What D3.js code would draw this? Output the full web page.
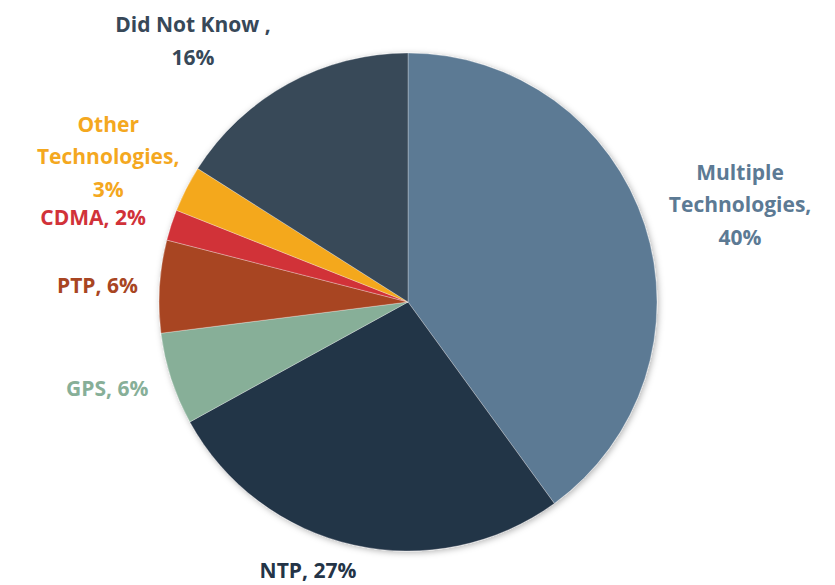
<!DOCTYPE html>
<html>
<head>
<meta charset="utf-8">
<script src="https://cdn.jsdelivr.net/npm/d3@7"></script>
<style>
  html, body { margin: 0; padding: 0; background: #fff; }
  svg text { font-family: "Open Sans", Lato, sans-serif; font-weight: 700; }
</style>
</head>
<body>
<div id="chart"></div>
<script>
'use strict';

// ─── Data ────────────────────────────────────────────────────────────────────
const categories = ['Multiple Technologies', 'NTP', 'GPS', 'PTP', 'CDMA', 'Other Technologies', 'Did Not Know'];
const shares     = [40, 27, 6, 6, 2, 3, 16];
const colors     = ['#5C7A94', '#243447', '#87AF98', '#A84522', '#D13239', '#F4A81F', '#374858'];
const labelLines = [
  ['Multiple', 'Technologies,', '40%'],
  ['NTP, 27%'],
  ['GPS, 6%'],
  ['PTP, 6%'],
  ['CDMA, 2%'],
  ['Other', 'Technologies,', '3%'],
  ['Did Not Know ,', '16%'],
];

// ─── Layout ──────────────────────────────────────────────────────────────────
const W = 835, H = 585;
const cx = 408, cy = 302, radius = 249;
// label placement: nudge (deg) from slice mid-angle, and distance from centre
const labelNudge = [1.7, 7.8, 1.9, -0.6, -3, -1.2, -10.7];
const labelDist  = [346, 287, 313, 311, 326, 333, 338];
const lineH = 32.5;

const svg = d3.select('#chart').append('svg')
  .attr('width', W)
  .attr('height', H);

const defs = svg.append('defs');
const f = defs.append('filter').attr('id', 'shadow')
  .attr('x', '-10%').attr('y', '-10%').attr('width', '120%').attr('height', '120%');
f.append('feDropShadow')
  .attr('dx', 1.5).attr('dy', 1.5).attr('stdDeviation', 3)
  .attr('flood-color', '#000').attr('flood-opacity', 0.3);

const rows = categories.map((c, i) => ({ cat: c, v: shares[i], color: colors[i], lines: labelLines[i], i }));

const pie = d3.pie().sort(null).value(d => d.v);
const arcs = pie(rows);
const arc = d3.arc().innerRadius(0).outerRadius(radius);

const g = svg.append('g').attr('transform', `translate(${cx},${cy})`);

g.append('g').attr('filter', 'url(#shadow)')
  .selectAll('path')
  .data(arcs)
  .join('path')
  .attr('d', arc)
  .attr('fill', d => d.data.color)
  .attr('stroke', '#fff')
  .attr('stroke-width', 0.5)
  .attr('stroke-opacity', 0.6);

// ─── Labels ──────────────────────────────────────────────────────────────────
arcs.forEach(a => {
  const i = a.data.i;
  const ang = (a.startAngle + a.endAngle) / 2 + labelNudge[i] * Math.PI / 180;
  const lx = labelDist[i] * Math.sin(ang);
  const ly = -labelDist[i] * Math.cos(ang);
  const n = a.data.lines.length;
  const t = g.append('text')
    .attr('text-anchor', 'middle')
    .attr('font-size', 21)
    .attr('fill', a.data.color);
  a.data.lines.forEach((ln, k) => {
    t.append('tspan')
      .attr('x', lx)
      .attr('y', ly + (k - (n - 1) / 2) * lineH)
      .attr('dy', '0.35em')
      .text(ln);
  });
});
</script>
</body>
</html>
